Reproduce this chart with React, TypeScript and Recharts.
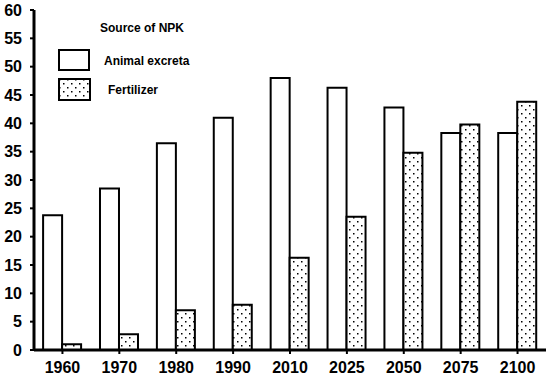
import React from "react";
import { BarChart, Bar, XAxis, YAxis } from "recharts";

const years = ["1960", "1970", "1980", "1990", "2010", "2025", "2050", "2075", "2100"];
const animalExcreta = [23.8, 28.5, 36.5, 41, 48, 46.3, 42.8, 38.3, 38.3];
const fertilizer = [1, 2.8, 7, 8, 16.3, 23.5, 34.8, 39.8, 43.8];
const yTicks = [0, 5, 10, 15, 20, 25, 30, 35, 40, 45, 50, 55, 60];

const data = years.map((y, i) => ({ year: y, animal: animalExcreta[i], fert: fertilizer[i] }));

const font = "'Liberation Sans', Arial, sans-serif";
const narrow = "'Liberation Sans Narrow', 'Arial Narrow', 'Liberation Sans', sans-serif";

const LegendBox = () => (
  <div style={{ fontFamily: font, fontWeight: "bold", fontSize: 12, color: "#000", position: "absolute", left: 58, top: 21, width: 200, height: 90 }}>
    <div style={{ position: "absolute", left: 42, top: 0 }}>Source of NPK</div>
    <div style={{ position: "absolute", left: 0, top: 28, width: 32, height: 22, border: "2px solid #000", boxSizing: "border-box", background: "#fff" }} />
    <div style={{ position: "absolute", left: 46, top: 33 }}>Animal excreta</div>
    <svg style={{ position: "absolute", left: 0, top: 57 }} width={33} height={23}>
      <rect x={1} y={1} width={31} height={21} fill="url(#dots)" stroke="#000" strokeWidth={2} />
    </svg>
    <div style={{ position: "absolute", left: 50, top: 62 }}>Fertilizer</div>
  </div>
);

export default function App() {
  return (
    <div style={{ position: "absolute", left: 0, top: 0, width: 550, height: 377, background: "#fff" }}>
      <BarChart
        width={550}
        height={377}
        data={data}
        margin={{ top: 10, right: 4, left: 0, bottom: 0 }}
        barCategoryGap="16%"
        barGap={0}
      >
        <defs>
          <pattern id="dots" width="8" height="8" patternUnits="userSpaceOnUse">
            <rect width="8" height="8" fill="#fff" />
            <rect x="1" y="1" width="1.5" height="1.5" fill="#000" />
            <rect x="5" y="5" width="1.5" height="1.5" fill="#000" />
          </pattern>
        </defs>
        <XAxis
          dataKey="year"
          axisLine={{ stroke: "#000", strokeWidth: 3 }}
          tickLine={{ stroke: "#000", strokeWidth: 2 }}
          tickSize={4}
          tickMargin={8}
          height={27}
          tick={{ fill: "#000", fontFamily: narrow, fontWeight: "bold", fontSize: 16 }}
        />
        <YAxis
          domain={[0, 60]}
          ticks={yTicks}
          width={34}
          interval={0}
          axisLine={{ stroke: "#000", strokeWidth: 3 }}
          tickLine={{ stroke: "#000", strokeWidth: 2 }}
          tickSize={4}
          tickMargin={8}
          tick={{ fill: "#000", fontFamily: narrow, fontWeight: "bold", fontSize: 16 }}
        />
        <Bar dataKey="animal" name="Animal excreta" fill="#fff" stroke="#000" strokeWidth={2} isAnimationActive={false} />
        <Bar dataKey="fert" name="Fertilizer" fill="url(#dots)" stroke="#000" strokeWidth={2} isAnimationActive={false} />
      </BarChart>
      <LegendBox />
    </div>
  );
}
